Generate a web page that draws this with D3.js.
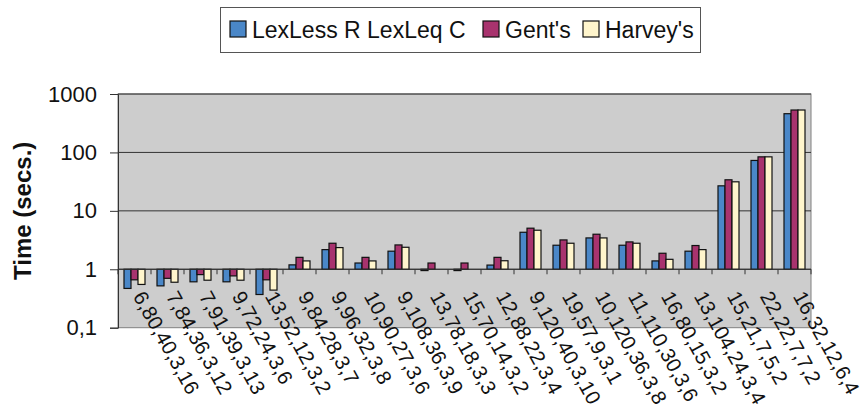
<!DOCTYPE html>
<html><head><meta charset="utf-8">
<script src="https://cdn.jsdelivr.net/npm/d3@7"></script>
<style>body{margin:0;background:#fff}svg{display:block}text{font-family:"Liberation Sans",Arial,sans-serif}</style>
</head><body><svg id="c" width="866" height="416"></svg>
<script>
const categories = ["6,80,40,3,16","7,84,36,3,12","7,91,39,3,13","9,72,24,3,6","13,52,12,3,2","9,84,28,3,7","9,96,32,3,8","10,90,27,3,6","9,108,36,3,9","13,78,18,3,3","15,70,14,3,2","12,88,22,3,4","9,120,40,3,10","19,57,9,3,1","10,120,36,3,8","11,110,30,3,6","16,80,15,3,2","13,104,24,3,4","15,21,7,5,2","22,22,7,7,2","16,32,12,6,4"];
const seriesNames = ["LexLess R LexLeq C","Gent's","Harvey's"];
const lexLess = [0.47,0.52,0.61,0.61,0.37,1.19,2.17,1.28,2.04,0.95,0.95,1.18,4.3,2.58,3.44,2.58,1.39,2.04,26.8,72.9,460];
const gents   = [0.66,0.70,0.81,0.77,0.66,1.6,2.79,1.6,2.61,1.28,1.28,1.6,5.05,3.18,3.98,2.94,1.88,2.55,34,84,532];
const harveys = [0.55,0.60,0.65,0.65,0.44,1.39,2.35,1.39,2.38,1.0,1.0,1.40,4.66,2.79,3.44,2.79,1.48,2.17,31.4,84,532];
const yTicks = [0.1,1,10,100,1000];
const yTickLabels = ["0,1","1","10","100","1000"];
const colors = ["#4a87c8","#a8336e","#fff5cc"];
const values = [lexLess, gents, harveys];

const svg = d3.select("#c");
const L=118, R=811, T=94, B=327.7;
const x0 = d3.scaleBand().domain(categories).range([L,R]).paddingInner(0).paddingOuter(0);
const x1 = d3.scaleBand().domain(seriesNames).range([0,x0.bandwidth()]).paddingInner(0).paddingOuter(0.857);
const y = d3.scaleLog().domain([0.1,1000]).range([B,T]);

svg.append("rect").attr("x",L).attr("y",T).attr("width",R-L).attr("height",B-T)
  .attr("fill","#cdcdcd").attr("stroke","#808080").attr("stroke-width",1);

// gridlines
svg.append("g").selectAll("line").data(yTicks.filter(d=>d>0.1)).join("line")
  .attr("x1",L).attr("x2",R).attr("y1",d=>y(d)).attr("y2",d=>y(d))
  .attr("stroke","#333").attr("stroke-width",1);

// y axis
const yAxis = d3.axisLeft(y).tickValues(yTicks).tickFormat((d,i)=>yTickLabels[i]).tickSize(8).tickPadding(13);
const gy = svg.append("g").attr("transform",`translate(${L},0)`).call(yAxis);
gy.select(".domain").attr("stroke","#333");
gy.selectAll(".tick line").attr("stroke","#333");
gy.selectAll("text").attr("font-size",22).attr("fill","#111");

// bars
const g = svg.append("g");
seriesNames.forEach((s,si)=>{
  g.append("g").selectAll("rect").data(values[si]).join("rect")
    .attr("x",(d,i)=>x0(categories[i])+x1(s))
    .attr("width",x1.bandwidth())
    .attr("y",d=>Math.min(y(d),y(1)))
    .attr("height",d=>Math.abs(y(d)-y(1)))
    .attr("fill",colors[si]).attr("stroke","#111").attr("stroke-width",1.2);
});

// x axis at y=1
const xTickPos = categories.map(c=>x0(c)).concat([R]);
svg.append("g").selectAll("line").data(xTickPos).join("line")
  .attr("x1",d=>d).attr("x2",d=>d).attr("y1",y(1)).attr("y2",y(1)+5)
  .attr("stroke","#333");
svg.append("line").attr("x1",L).attr("x2",R).attr("y1",y(1)).attr("y2",y(1)).attr("stroke","#333");

// category labels
svg.append("g").selectAll("text").data(categories).join("text")
  .attr("transform",d=>`translate(${x0(d)+x0.bandwidth()/2-2},${y(1)+27}) rotate(61)`)
  .attr("font-size",20.5).attr("fill","#111").text(d=>d);

// y title
svg.append("text").attr("transform",`translate(31,${(T+B)/2}) rotate(-90)`)
  .attr("text-anchor","middle").attr("font-size",24).attr("font-weight","bold").attr("fill","#111")
  .text("Time (secs.)");

// legend
const lg = svg.append("g");
lg.append("rect").attr("x",220.5).attr("y",7.5).attr("width",480).attr("height",45)
  .attr("fill","#fff").attr("stroke","#555").attr("stroke-width",1);
const legX = [230,483,583];
seriesNames.forEach((s,i)=>{
  lg.append("rect").attr("x",legX[i]).attr("y",21).attr("width",16).attr("height",16)
    .attr("fill",colors[i]).attr("stroke","#111").attr("stroke-width",1.2);
  lg.append("text").attr("x",legX[i]+22).attr("y",37.5).attr("font-size",23).attr("fill","#111").text(s);
});
</script></body></html>
